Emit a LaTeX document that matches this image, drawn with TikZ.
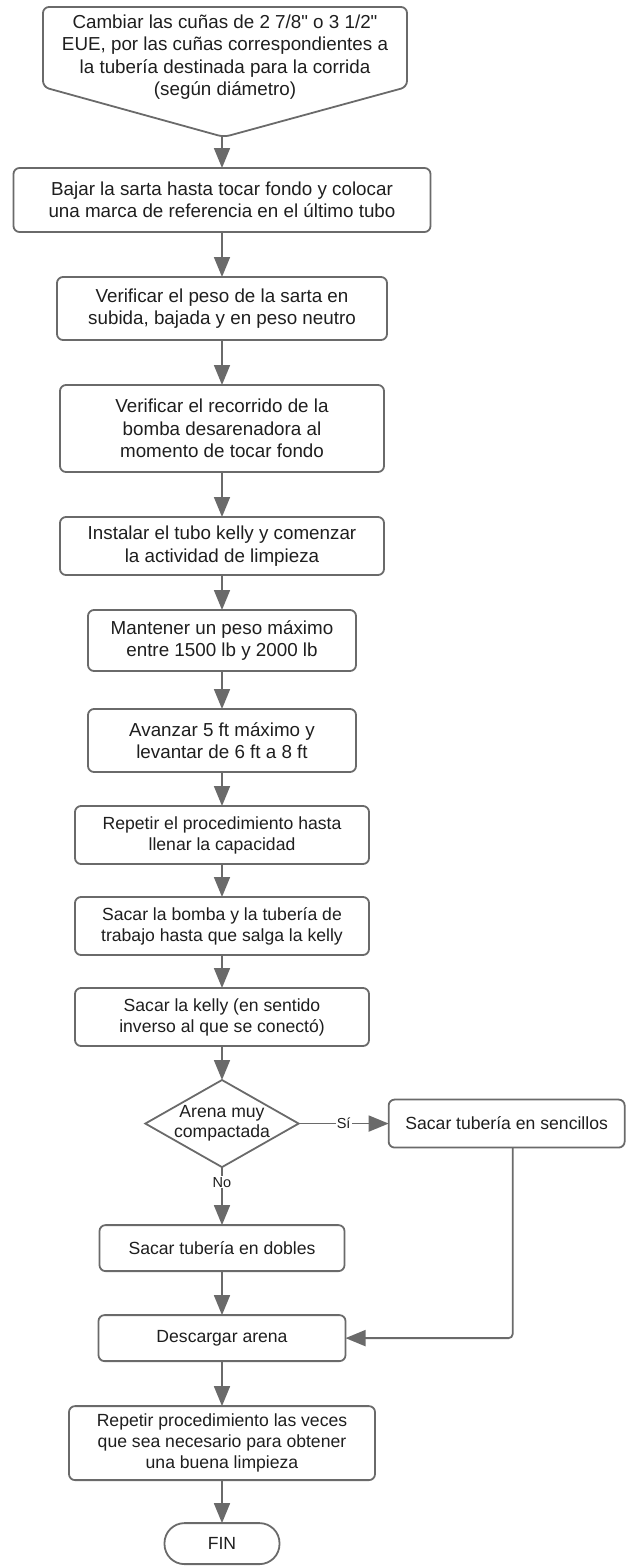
\documentclass[tikz,border=0pt]{standalone}
\usepackage{fontspec}
\setmainfont{Liberation Sans}[Ligatures=TeXOff]
\usepackage{xcolor}
\usetikzlibrary{positioning,arrows.meta,shapes.geometric}

\definecolor{linegray}{HTML}{6A6A6A}
\definecolor{inkgray}{HTML}{1E1E1E}

\begin{document}
\begin{tikzpicture}[
  x=1pt, y=1pt,
  node distance=45pt,
  box/.style={draw=linegray, line width=1.8pt, rounded corners=6pt, align=center, text=inkgray, inner sep=4pt, outer sep=0pt, font=\fontsize{17.6}{21}\selectfont},
  big/.style={font=\fontsize{18.8}{22.5}\selectfont},
  decision/.style={draw=linegray, line width=1.8pt, diamond, aspect=1.76, inner sep=-1pt, outer sep=0pt, align=center, text=inkgray, font=\fontsize{17.6}{20}\selectfont},
  terminal/.style={draw=linegray, line width=1.8pt, rounded corners=20pt, minimum width=115pt, minimum height=41pt, outer sep=0pt, text=inkgray, font=\fontsize{17.6}{21}\selectfont},
  flow/.style={-{Triangle[length=20pt,width=16pt]}, draw=linegray, line width=1.8pt},
  lbl/.style={fill=white, inner sep=1pt, text=inkgray, font=\fontsize{14.5}{16}\selectfont}
]
\useasboundingbox (0,0) rectangle (627,-1568);

% first step: off-page shape
\draw[draw=linegray, line width=1.8pt, rounded corners=6pt] (43,-7) -- (407,-7) -- (407,-87) -- (224,-137) -- (43,-87) -- cycle;
\node[big, align=center, text=inkgray] (cambiar) at (225,-57) {Cambiar las cuñas de 2 7/8" o 3 1/2"\\EUE, por las cuñas correspondientes a\\la tubería destinada para la corrida\\(según diámetro)};
\coordinate (punta) at (222,-137);

\node[box, big, minimum width=417pt, minimum height=64pt] (bajar) at (222,-200) {Bajar la sarta hasta tocar fondo y colocar\\una marca de referencia en el último tubo};
\node[box, big, minimum width=330pt, minimum height=63pt, below=45pt of bajar] (peso) {Verificar el peso de la sarta en\\subida, bajada y en peso neutro};
\node[box, big, minimum width=324pt, minimum height=87pt, below=45pt of peso] (recorrido) {Verificar el recorrido de la\\bomba desarenadora al\\momento de tocar fondo};
\node[box, big, minimum width=324pt, minimum height=58pt, below=45pt of recorrido] (kellytubo) {Instalar el tubo kelly y comenzar\\la actividad de limpieza};
\node[box, big, minimum width=268pt, minimum height=61pt, below=35pt of kellytubo] (mantener) {Mantener un peso máximo\\entre 1500 lb y 2000 lb};
\node[box, big, minimum width=268pt, minimum height=63pt, below=38pt of mantener] (avanzar) {Avanzar 5 ft máximo y\\levantar de 6 ft a 8 ft};
\node[box, minimum width=294pt, minimum height=58pt, below=34pt of avanzar] (llenar) {Repetir el procedimiento hasta\\llenar la capacidad};
\node[box, minimum width=294pt, minimum height=58pt, below=33pt of llenar] (bomba) {Sacar la bomba y la tubería de\\trabajo hasta que salga la kelly};
\node[box, minimum width=294pt, minimum height=58pt, below=33pt of bomba] (kelly) {Sacar la kelly (en sentido\\inverso al que se conectó)};
\node[decision, below=34pt of kelly] (arena) {Arena muy\\compactada};
\node[box, minimum width=236pt, minimum height=48pt, right=90pt of arena] (sencillos) {Sacar tubería en sencillos};
\node[box, minimum width=245pt, minimum height=46pt, below=58pt of arena] (dobles) {Sacar tubería en dobles};
\node[box, minimum width=247pt, minimum height=46pt, below=44pt of dobles] (descargar) {Descargar arena};
\node[box, minimum width=306pt, minimum height=74pt, below=45pt of descargar] (limpieza) {Repetir procedimiento las veces\\que sea necesario para obtener\\una buena limpieza};
\node[terminal, below=43pt of limpieza] (fin) {FIN};

\draw[flow] (punta) -- (bajar);
\draw[flow] (bajar) -- (peso);
\draw[flow] (peso) -- (recorrido);
\draw[flow] (recorrido) -- (kellytubo);
\draw[flow] (kellytubo) -- (mantener);
\draw[flow] (mantener) -- (avanzar);
\draw[flow] (avanzar) -- (llenar);
\draw[flow] (llenar) -- (bomba);
\draw[flow] (bomba) -- (kelly);
\draw[flow] (kelly) -- (arena);
\draw[flow] (arena) -- node[lbl]{Sí} (sencillos);
\draw[flow] (arena) -- node[lbl, pos=0.26]{No} (dobles);
\draw[flow] (dobles) -- (descargar);
\draw[flow, rounded corners=4pt] ([xshift=6pt]sencillos.south) |- (descargar);
\draw[flow] (descargar) -- (limpieza);
\draw[flow] (limpieza) -- (fin);
\end{tikzpicture}
\end{document}
